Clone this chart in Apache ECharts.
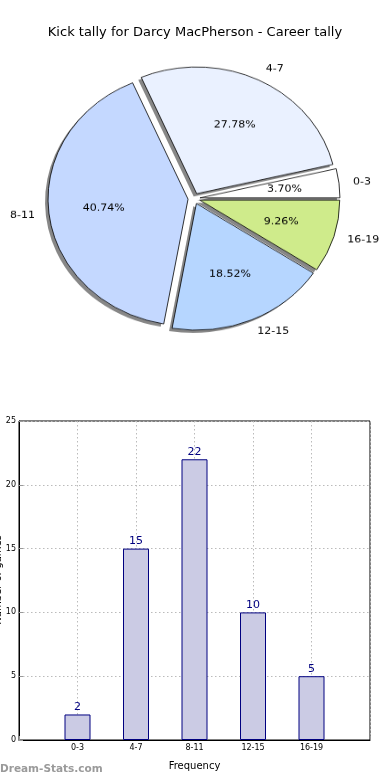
<!DOCTYPE html>
<html><head><meta charset="utf-8">
<script src="https://cdn.jsdelivr.net/npm/echarts@6/dist/echarts.min.js"></script>
<style>
html,body{margin:0;padding:0;background:#fff;}
#main{position:absolute;left:0;top:0;width:390px;height:780px;}
#pie{position:absolute;left:0;top:0;width:390px;height:397px;transform:scaleY(0.905);transform-origin:50% 50%;}
</style></head><body>
<div id="main"></div><div id="pie"></div>
<script>
const titleText = 'Kick tally for Darcy MacPherson - Career tally';
const categories = ['0-3', '4-7', '8-11', '12-15', '16-19'];
const values = [2, 15, 22, 10, 5];
const sliceColors = ['#ffffff', '#eaf1ff', '#c4d8ff', '#b6d6ff', '#cfeb8b'];
const yMin = 0, yMax = 25, yStep = 5;
const xAxisName = 'Frequency';
const yAxisName = 'Number of games';
const watermark = 'Dream-Stats.com';

const FONT = 'DejaVu Sans';
const total = values.reduce((a, b) => a + b, 0);

// ---- bar chart + title ----
const main = echarts.init(document.getElementById('main'), null, {renderer: 'canvas'});
const xCats = [''].concat(categories, ['']);
const barData = [null].concat(values, [null]);
main.setOption({
  animation: false,
  backgroundColor: '#fff',
  title: {
    text: titleText, left: 'center', top: 21,
    textStyle: {fontFamily: FONT, fontSize: 13, fontWeight: 'normal', color: '#000'}
  },
  graphic: [{
    type: 'text', left: 0, top: 764,
    style: {text: watermark, fill: '#9a9a9a', font: 'bold 10.5px "DejaVu Sans"'}
  }, {
    type: 'text', x: -2, y: 580, rotation: Math.PI / 2,
    style: {text: yAxisName, fill: '#000', font: '10px "DejaVu Sans"', align: 'center', verticalAlign: 'middle'}
  }],
  grid: {left: 19, right: 20, top: 421, bottom: 40, show: true, borderColor: '#000', borderWidth: 1, containLabel: false, outerBoundsMode: 'none'},
  xAxis: {
    type: 'category', data: xCats, boundaryGap: false,
    name: xAxisName, nameLocation: 'middle', nameGap: 21,
    nameTextStyle: {fontFamily: FONT, fontSize: 10, color: '#000'},
    axisLine: {lineStyle: {color: '#000'}},
    axisTick: {inside: true, length: 4, lineStyle: {color: '#999'}},
    axisLabel: {fontFamily: FONT, fontSize: 8, color: '#000', margin: 4},
    splitLine: {show: true, lineStyle: {color: '#bbb', type: [1.5, 2.5], width: 1}}
  },
  yAxis: {
    type: 'value', min: yMin, max: yMax, interval: yStep,
    axisLine: {show: true, lineStyle: {color: '#000'}},
    axisTick: {show: true, inside: true, length: 4, lineStyle: {color: '#999'}},
    axisLabel: {fontFamily: FONT, fontSize: 8, color: '#000', margin: 3},
    splitLine: {show: true, lineStyle: {color: '#bbb', type: [1.5, 2.5], width: 1}}
  },
  series: [{
    type: 'bar', data: barData, barWidth: 26,
    itemStyle: {color: '#cbcbe4', borderColor: '#000080', borderWidth: 1},
    label: {show: true, position: 'top', distance: 2, color: '#000080', fontFamily: FONT, fontSize: 11},
    emphasis: {disabled: true}
  }]
});

// ---- pie chart ----
const pie = echarts.init(document.getElementById('pie'), null, {renderer: 'canvas'});
const common = {
  type: 'pie', center: [194, 198.5], startAngle: 0, clockwise: false,
  selectedMode: 'multiple', selectedOffset: 6, avoidLabelOverlap: false,
  emphasis: {disabled: true, scale: false}
};
pie.setOption({
  animation: false,
  series: [
    Object.assign({}, common, {
      radius: [0, 140],
      itemStyle: {borderWidth: 0, shadowColor: 'rgba(0,0,0,0.47)', shadowBlur: 0, shadowOffsetX: -3, shadowOffsetY: 3},
      label: {show: false}, labelLine: {show: false},
      data: categories.map((c, i) => ({name: c, value: values[i], selected: true, itemStyle: {color: sliceColors[i]}}))
    }),
    Object.assign({}, common, {
      radius: [0, 140], silent: true,
      itemStyle: {color: 'rgba(0,0,0,0)', borderColor: '#000', borderWidth: 0.8},
      label: {show: true, position: 'outside', formatter: '{b}', color: '#000', fontFamily: FONT, fontSize: 11, distanceToLabelLine: 0},
      labelLine: {show: false, length: 14, length2: 0},
      data: categories.map((c, i) => ({name: c, value: values[i], selected: true}))
    }),
    Object.assign({}, common, {
      radius: [0, 164], silent: true,
      itemStyle: {color: 'rgba(0,0,0,0)', borderWidth: 0},
      label: {show: true, position: 'inner', color: '#000', fontFamily: FONT, fontSize: 11,
        formatter: p => (p.value / total * 100).toFixed(2) + '%'},
      labelLine: {show: false},
      data: categories.map((c, i) => ({name: c, value: values[i], selected: true}))
    })
  ]
});
</script>
</body></html>
